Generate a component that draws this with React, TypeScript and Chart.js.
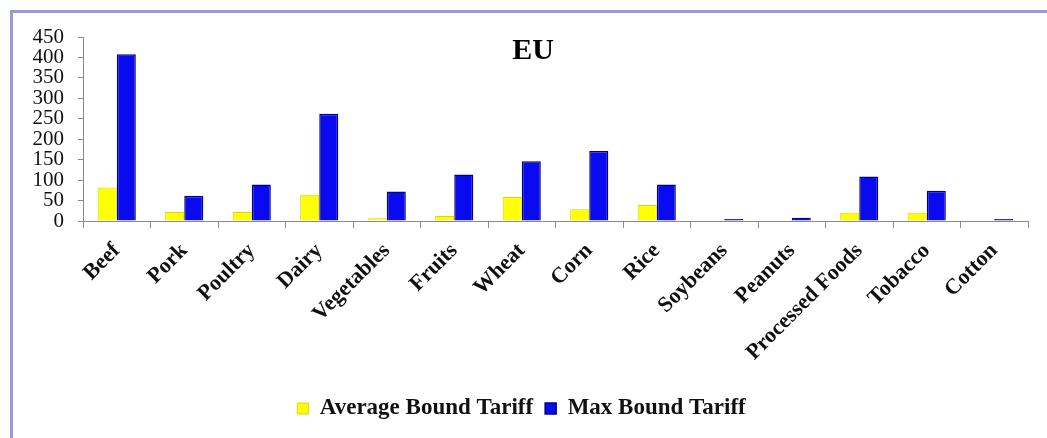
import React, { useEffect, useRef } from "react";
import { Chart, registerables } from "chart.js";

Chart.register(...registerables);

const categories = [
  "Beef", "Pork", "Poultry", "Dairy", "Vegetables", "Fruits", "Wheat",
  "Corn", "Rice", "Soybeans", "Peanuts", "Processed Foods", "Tobacco", "Cotton",
];
const averageBoundTariff = [82, 22, 22, 64, 7, 12, 59, 29, 39, 0, 0, 20, 20, 0];
const maxBoundTariff = [408, 62, 89, 262, 72, 114, 146, 171, 89, 5, 8, 109, 74, 5];
const yTicks = [0, 50, 100, 150, 200, 250, 300, 350, 400, 450];

const SERIF = "'Liberation Serif', 'Times New Roman', serif";

const framePlugin = {
  id: "frame",
  beforeDraw(chart: any) {
    const ctx = chart.ctx;
    ctx.save();
    ctx.fillStyle = "#ffffff";
    ctx.fillRect(0, 0, chart.width, chart.height);
    ctx.strokeStyle = "#9a9ad6";
    ctx.lineWidth = 3;
    ctx.beginPath();
    ctx.moveTo(11.5, chart.height);
    ctx.lineTo(11.5, 11.5);
    ctx.lineTo(chart.width, 11.5);
    ctx.stroke();
    ctx.restore();
  },
};

const titlePlugin = {
  id: "floatTitle",
  afterDraw(chart: any) {
    const ctx = chart.ctx;
    ctx.save();
    ctx.font = `bold 30px ${SERIF}`;
    ctx.fillStyle = "#000";
    ctx.textAlign = "center";
    ctx.textBaseline = "middle";
    ctx.fillText("EU", 533, 51);
    ctx.restore();
  },
};

export default function App() {
  const ref = useRef<HTMLCanvasElement | null>(null);
  useEffect(() => {
    document.body.style.margin = "0";
    if (!ref.current) return;
    const chart = new Chart(ref.current, {
      type: "bar",
      data: {
        labels: categories,
        datasets: [
          {
            label: "Average Bound Tariff",
            data: averageBoundTariff,
            backgroundColor: "#ffff00",
            borderColor: "#d8d800",
            borderWidth: 1,
            categoryPercentage: 0.565,
            barPercentage: 1.0,
          },
          {
            label: "Max Bound Tariff",
            data: maxBoundTariff,
            backgroundColor: "#0a0af0",
            borderColor: "#00008b",
            borderWidth: 1.5,
            categoryPercentage: 0.565,
            barPercentage: 1.0,
          },
        ],
      },
      options: {
        animation: false,
        responsive: true,
        maintainAspectRatio: false,
        layout: { padding: { left: 15, right: 19, top: 37, bottom: 8 } },
        plugins: {
          title: { display: false },
          tooltip: { enabled: false },
          legend: {
            position: "bottom",
            labels: {
              boxWidth: 11,
              boxHeight: 11,
              padding: 12,
              color: "#111",
              font: { family: SERIF, size: 23, weight: "bold" },
            },
          },
        },
        scales: {
          x: {
            afterFit: (s: any) => { s.height = 164; },
            grid: {
              display: true,
              drawOnChartArea: false,
              drawTicks: true,
              tickLength: 7,
              color: "#8a8a8a",
            },
            border: { color: "#8a8a8a", width: 1 },
            ticks: {
              minRotation: 45,
              maxRotation: 45,
              autoSkip: false,
              padding: 10,
              color: "#111",
              font: { family: SERIF, size: 22, weight: "bold" },
            },
          },
          y: {
            min: 0,
            max: 450,
            afterFit: (s: any) => { s.width = 68; },
            afterBuildTicks: (s: any) => { s.ticks = yTicks.map((v) => ({ value: v })); },
            grid: {
              display: true,
              drawOnChartArea: false,
              drawTicks: true,
              tickLength: 5,
              color: "#8a8a8a",
            },
            border: { color: "#8a8a8a", width: 1 },
            ticks: {
              autoSkip: false,
              padding: 14,
              color: "#111",
              font: { family: SERIF, size: 21 },
            },
          },
        },
      },
      plugins: [framePlugin, titlePlugin],
    });
    return () => chart.destroy();
  }, []);
  return (
    <div style={{ position: "absolute", left: 0, top: 0, width: 1047, height: 438 }}>
      <canvas ref={ref} />
    </div>
  );
}
